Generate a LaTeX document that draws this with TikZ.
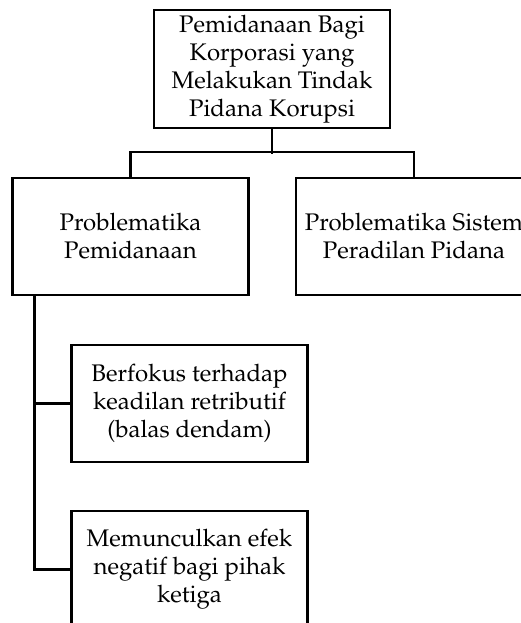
\documentclass[tikz,border=0pt]{standalone}
\usepackage[T1]{fontenc}
\usepackage{mathpazo}
\begin{document}
\begin{tikzpicture}[x=1pt,y=-1pt,
  box/.style={draw, line width=2.4pt, minimum width=236pt, minimum height=117pt,
    align=center, inner sep=0pt, font=\fontsize{24}{28}\selectfont},
  link/.style={line width=2.4pt}]
\useasboundingbox (0,0) rectangle (521,623);
\clip (0,0) rectangle (521,623);
\node[box, minimum height=118pt] (top) at (272,69) {Pemidanaan Bagi\\Korporasi yang\\Melakukan Tindak\\Pidana Korupsi};
\node[box] (left) at (130.5,236.5) {Problematika\\Pemidanaan};
\node[box] (right) at (414,236.5) {Problematika Sistem\\Peradilan Pidana};
\node[box] (sub1) at (189.5,403.5) {Berfokus terhadap\\keadilan retributif\\(balas dendam)};
\node[box] (sub2) at (189.5,569.5) {Memunculkan efek\\negatif bagi pihak\\ketiga};
\draw[link] (top.south) -- ++(0,25);
\draw[link] (left.north) -- ++(0,-25) -| (right.north);
\coordinate (stem) at ([xshift=23pt]left.south west);
\draw[link] (stem) |- (sub2.west);
\draw[link] (stem |- sub1.west) -- (sub1.west);
\end{tikzpicture}
\end{document}
